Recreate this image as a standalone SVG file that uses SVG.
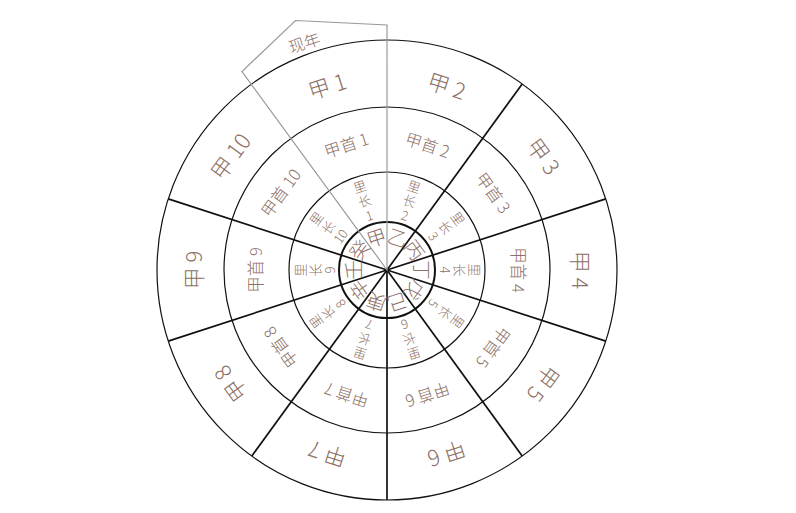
<svg xmlns="http://www.w3.org/2000/svg" width="796" height="513" viewBox="0 0 796 513">
<style>
.ring{fill:none;stroke:#111;stroke-width:1.2}
.thick{fill:none;stroke:#111;stroke-width:2}
.spoke{stroke:#111;stroke-width:1.7}
.tab{fill:none;stroke:#9a9a9a;stroke-width:1.2}
text{font-family:"Noto Sans CJK SC","Noto Sans",sans-serif;font-weight:300;fill:#8d7066;text-anchor:middle;dominant-baseline:central}
.t1{font-size:22px}
.t2{font-size:16.5px}
.t3{font-size:13px}
.t4{font-size:19.5px}
.tt{font-size:16px}
</style>
<rect width="796" height="513" fill="#fff"/>
<g id="rings">
<circle class="ring" cx="387" cy="270" r="230"/>
<circle class="ring" cx="387" cy="270" r="163"/>
<circle class="ring" cx="387" cy="270" r="98"/>
<circle class="thick" cx="387" cy="270" r="48"/>
</g>
<g id="connectors">
<g transform="translate(387 270)">
<line class="spoke" x1="0" y1="0" x2="0" y2="-230" transform="rotate(36)"/>
<line class="spoke" x1="0" y1="0" x2="0" y2="-230" transform="rotate(72)"/>
<line class="spoke" x1="0" y1="0" x2="0" y2="-230" transform="rotate(108)"/>
<line class="spoke" x1="0" y1="0" x2="0" y2="-230" transform="rotate(144)"/>
<line class="spoke" x1="0" y1="0" x2="0" y2="-230" transform="rotate(180)"/>
<line class="spoke" x1="0" y1="0" x2="0" y2="-230" transform="rotate(216)"/>
<line class="spoke" x1="0" y1="0" x2="0" y2="-230" transform="rotate(252)"/>
<line class="spoke" x1="0" y1="0" x2="0" y2="-230" transform="rotate(288)"/>
</g>
</g>
<g id="tab">
<polygon class="tab" points="387,270 242,71.5 295.5,20.5 387,25"/>
<text class="tt" transform="translate(304 42) rotate(-18)">现年</text>
</g>
<g id="s1" transform="translate(387 270) rotate(-18)">
<text class="t1" y="-195">甲 1</text>
<text class="t2" y="-132">甲首 1</text>
<text class="t3" y="-88">里</text><text class="t3" y="-73">长</text><text class="t3" y="-58">1</text>
<text class="t4" y="-35">甲</text>
</g>
<g id="s2" transform="translate(387 270) rotate(18)">
<text class="t1" y="-195">甲 2</text>
<text class="t2" y="-132">甲首 2</text>
<text class="t3" y="-88">里</text><text class="t3" y="-73">长</text><text class="t3" y="-58">2</text>
<text class="t4" y="-35">乙</text>
</g>
<g id="s3" transform="translate(387 270) rotate(54)">
<text class="t1" y="-195">甲 3</text>
<text class="t2" y="-132">甲首 3</text>
<text class="t3" y="-88">里</text><text class="t3" y="-73">长</text><text class="t3" y="-58">3</text>
<text class="t4" y="-35">丙</text>
</g>
<g id="s4" transform="translate(387 270) rotate(90)">
<text class="t1" y="-195">甲 4</text>
<text class="t2" y="-132">甲首 4</text>
<text class="t3" y="-88">里</text><text class="t3" y="-73">长</text><text class="t3" y="-58">4</text>
<text class="t4" y="-35">丁</text>
</g>
<g id="s5" transform="translate(387 270) rotate(126)">
<text class="t1" y="-195">甲 5</text>
<text class="t2" y="-132">甲首 5</text>
<text class="t3" y="-88">里</text><text class="t3" y="-73">长</text><text class="t3" y="-58">5</text>
<text class="t4" y="-35">戊</text>
</g>
<g id="s6" transform="translate(387 270) rotate(162)">
<text class="t1" y="-195">甲 6</text>
<text class="t2" y="-132">甲首 6</text>
<text class="t3" y="-88">里</text><text class="t3" y="-73">长</text><text class="t3" y="-58">6</text>
<text class="t4" y="-35">己</text>
</g>
<g id="s7" transform="translate(387 270) rotate(198)">
<text class="t1" y="-195">甲 7</text>
<text class="t2" y="-132">甲首 7</text>
<text class="t3" y="-88">里</text><text class="t3" y="-73">长</text><text class="t3" y="-58">7</text>
<text class="t4" y="-35">庚</text>
</g>
<g id="s8" transform="translate(387 270) rotate(234)">
<text class="t1" y="-195">甲 8</text>
<text class="t2" y="-132">甲首 8</text>
<text class="t3" y="-88">里</text><text class="t3" y="-73">长</text><text class="t3" y="-58">8</text>
<text class="t4" y="-35">辛</text>
</g>
<g id="s9" transform="translate(387 270) rotate(270)">
<text class="t1" y="-195">甲 9</text>
<text class="t2" y="-132">甲首 9</text>
<text class="t3" y="-88">里</text><text class="t3" y="-73">长</text><text class="t3" y="-58">9</text>
<text class="t4" y="-35">壬</text>
</g>
<g id="s10" transform="translate(387 270) rotate(306)">
<text class="t1" y="-195">甲 10</text>
<text class="t2" y="-132">甲首 10</text>
<text class="t3" y="-88">里</text><text class="t3" y="-73">长</text><text class="t3" y="-58">10</text>
<text class="t4" y="-35">癸</text>
</g>
</svg>
